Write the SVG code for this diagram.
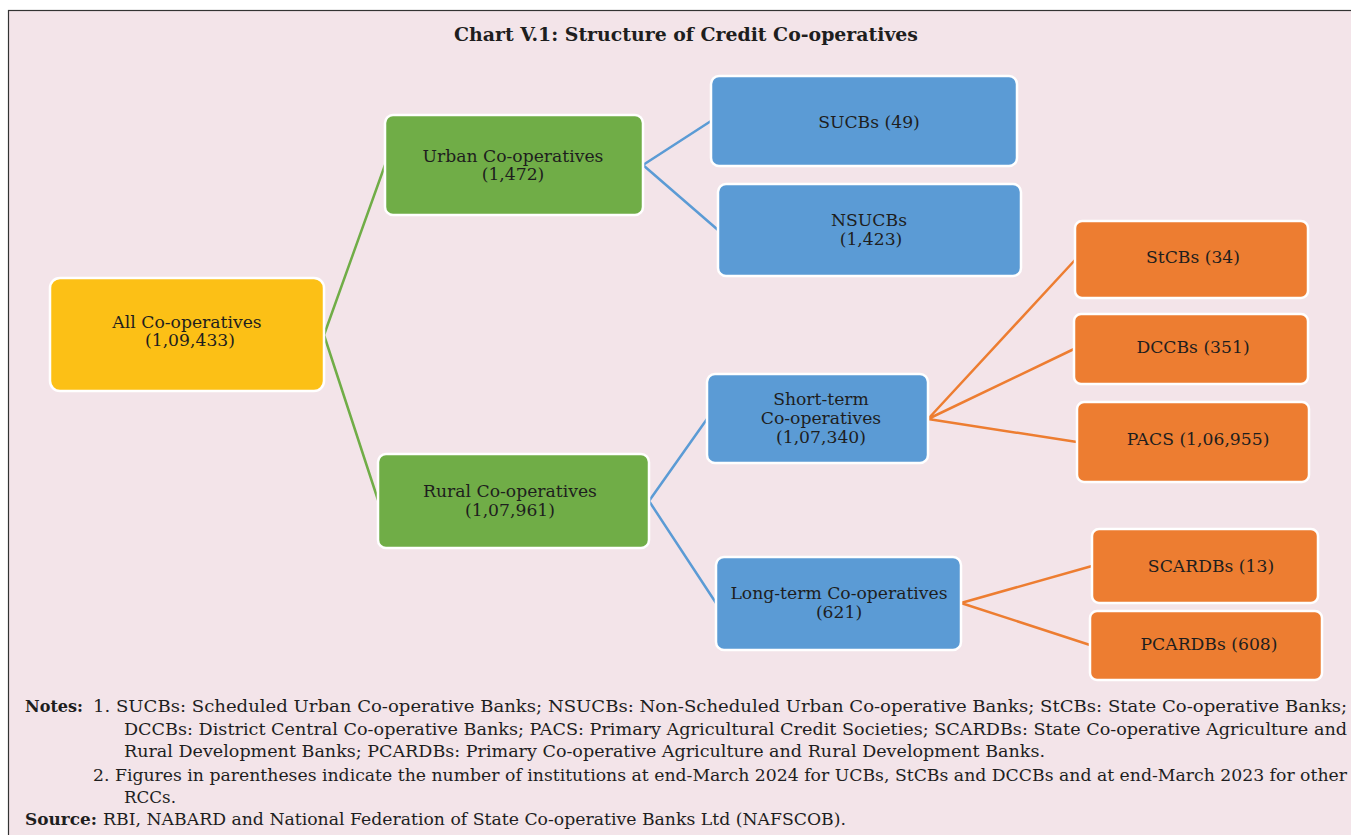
<svg xmlns="http://www.w3.org/2000/svg" width="1351" height="835" viewBox="0 0 1351 835">
<style>
.frame{fill:#f3e4e9;stroke:#333;stroke-width:1.2}
.n{stroke:#fff;stroke-width:2.5}
.y{fill:#fcc016}.g{fill:#70ad47}.b{fill:#5b9bd5}.o{fill:#ed7d31}
.t{font-family:"DejaVu Serif","Liberation Serif",serif;font-size:17.2px;fill:#1e1e1e;text-anchor:middle}
.title{font-family:"DejaVu Serif","Liberation Serif",serif;font-size:18px;font-weight:bold;fill:#1e1e1e;text-anchor:middle}
.note{font-family:"DejaVu Serif","Liberation Serif",serif;font-size:17px;fill:#1e1e1e}
.bold{font-weight:bold}
.cg{stroke:#70ad47;stroke-width:2.5;fill:none}
.cb{stroke:#5b9bd5;stroke-width:2.5;fill:none}
.co{stroke:#ed7d31;stroke-width:2.5;fill:none}
</style>
<rect x="0" y="0" width="1351" height="835" fill="#fff"/>
<rect class="frame" x="8.5" y="10.5" width="1350" height="830"/>
<text class="title" x="686" y="41" textLength="464" lengthAdjust="spacingAndGlyphs">Chart V.1: Structure of Credit Co-operatives</text>
<g id="connectors">
<path class="cg" d="M324 335 L385 165 M324 335 L378 500"/>
<path class="cb" d="M643 165 L711 121 M643 165 L718 230 M649 501 L707 419 M649 501 L716 603"/>
<path class="co" d="M928 419 L1075 260 M928 419 L1074 349 M928 419 L1077 442 M961 603 L1092 566 M961 603 L1090 645"/>
</g>
<g id="all"><rect class="n y" x="50" y="278" width="274" height="113" rx="10"/><text class="t" x="187" y="328">All Co-operatives</text><text class="t" x="190" y="346">(1,09,433)</text></g>
<g id="urban"><rect class="n g" x="385" y="115" width="258" height="100" rx="8"/><text class="t" x="513" y="162">Urban Co-operatives</text><text class="t" x="513" y="180">(1,472)</text></g>
<g id="rural"><rect class="n g" x="378" y="454" width="271" height="94" rx="8"/><text class="t" x="510" y="497">Rural Co-operatives</text><text class="t" x="510" y="516">(1,07,961)</text></g>
<g id="sucbs"><rect class="n b" x="711" y="76" width="306" height="90" rx="8"/><text class="t" x="869" y="128">SUCBs (49)</text></g>
<g id="nsucbs"><rect class="n b" x="718" y="184" width="303" height="92" rx="8"/><text class="t" x="869" y="226">NSUCBs</text><text class="t" x="871" y="245">(1,423)</text></g>
<g id="shortterm"><rect class="n b" x="707" y="374" width="221" height="89" rx="8"/><text class="t" x="821" y="405">Short-term</text><text class="t" x="821" y="424">Co-operatives</text><text class="t" x="821" y="443">(1,07,340)</text></g>
<g id="longterm"><rect class="n b" x="716" y="557" width="245" height="93" rx="8"/><text class="t" x="839" y="599">Long-term Co-operatives</text><text class="t" x="839" y="618">(621)</text></g>
<g id="stcbs"><rect class="n o" x="1075" y="221" width="233" height="77" rx="7"/><text class="t" x="1193" y="263">StCBs (34)</text></g>
<g id="dccbs"><rect class="n o" x="1074" y="314" width="234" height="70" rx="7"/><text class="t" x="1193" y="353">DCCBs (351)</text></g>
<g id="pacs"><rect class="n o" x="1077" y="402" width="232" height="80" rx="7"/><text class="t" x="1198" y="445">PACS (1,06,955)</text></g>
<g id="scardbs"><rect class="n o" x="1092" y="529" width="226" height="74" rx="7"/><text class="t" x="1211" y="572">SCARDBs (13)</text></g>
<g id="pcardbs"><rect class="n o" x="1090" y="611" width="232" height="69" rx="7"/><text class="t" x="1209" y="650">PCARDBs (608)</text></g>
<g id="notes">
<text class="note bold" x="25" y="712" textLength="58" lengthAdjust="spacingAndGlyphs">Notes:</text>
<text class="note" x="93" y="712" textLength="1254" lengthAdjust="spacingAndGlyphs">1. SUCBs: Scheduled Urban Co-operative Banks; NSUCBs: Non-Scheduled Urban Co-operative Banks; StCBs: State Co-operative Banks;</text>
<text class="note" x="124" y="735" textLength="1223" lengthAdjust="spacingAndGlyphs">DCCBs: District Central Co-operative Banks; PACS: Primary Agricultural Credit Societies; SCARDBs: State Co-operative Agriculture and</text>
<text class="note" x="124" y="757" textLength="921" lengthAdjust="spacingAndGlyphs">Rural Development Banks; PCARDBs:  Primary Co-operative Agriculture and Rural Development Banks.</text>
<text class="note" x="93" y="781" textLength="1254" lengthAdjust="spacingAndGlyphs">2. Figures in parentheses indicate the number of institutions at end-March 2024 for UCBs, StCBs and DCCBs and at end-March 2023 for other</text>
<text class="note" x="124" y="803" textLength="52" lengthAdjust="spacingAndGlyphs">RCCs.</text>
<text class="note bold" x="25" y="825" textLength="72" lengthAdjust="spacingAndGlyphs">Source:</text>
<text class="note" x="103" y="825" textLength="743" lengthAdjust="spacingAndGlyphs">RBI, NABARD and National Federation of State Co-operative Banks Ltd (NAFSCOB).</text>
</g>
</svg>
